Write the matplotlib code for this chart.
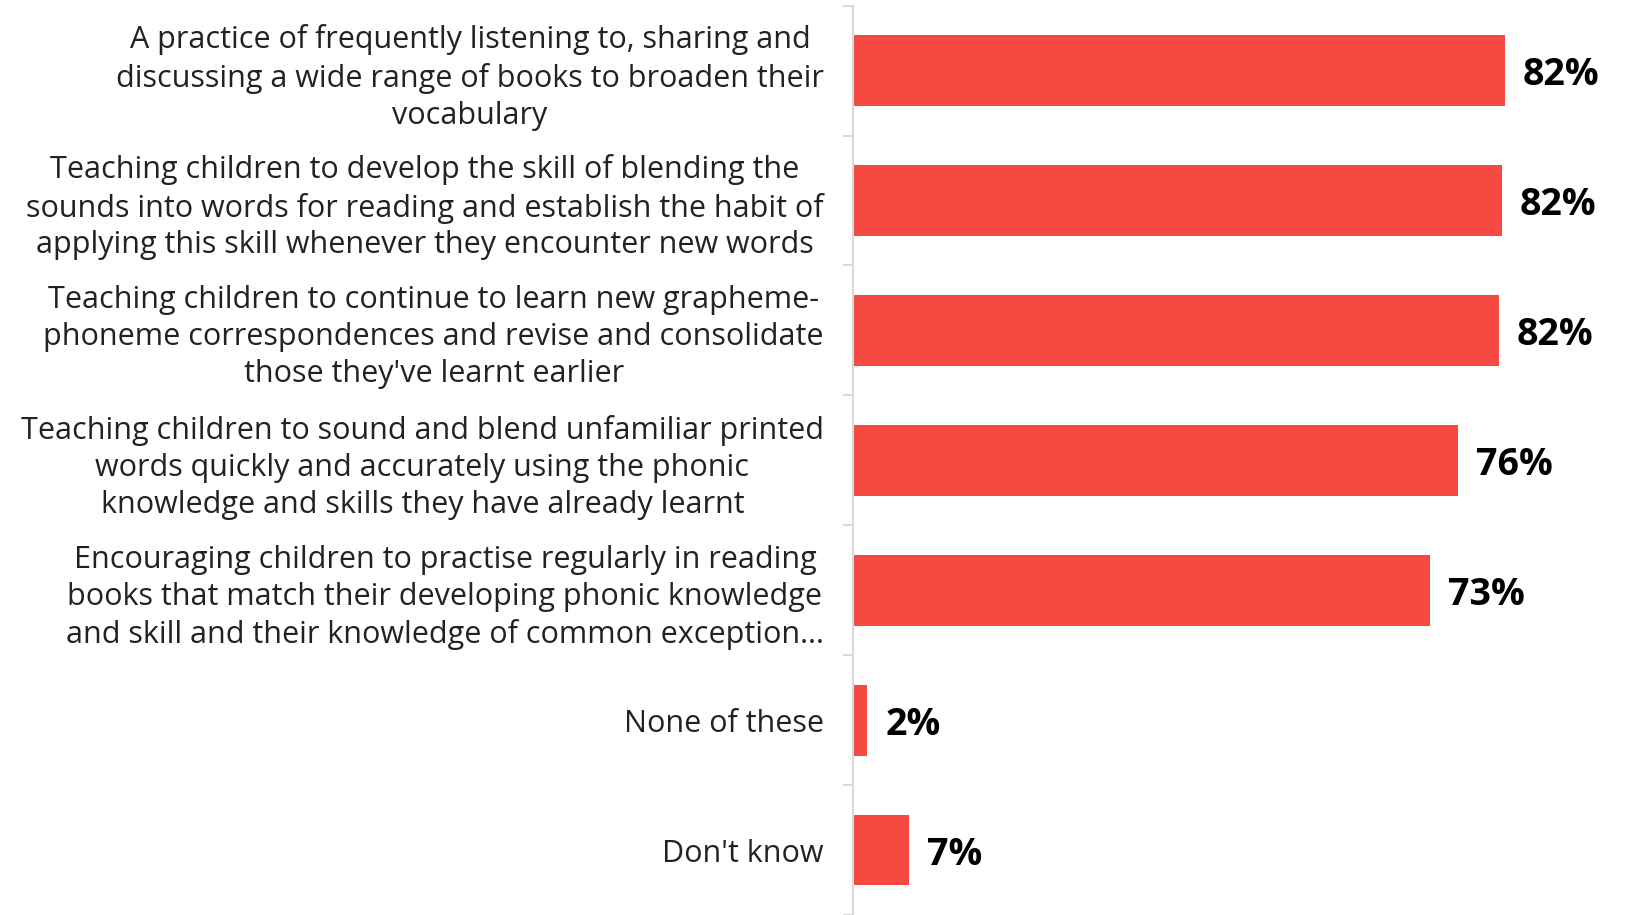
import matplotlib.pyplot as plt

plt.rcParams['font.family'] = ['Open Sans', 'DejaVu Sans']

categories = [
    "A practice of frequently listening to, sharing and\ndiscussing a wide range of books to broaden their\nvocabulary",
    "Teaching children to develop the skill of blending the\nsounds into words for reading and establish the habit of\napplying this skill whenever they encounter new words",
    "Teaching children to continue to learn new grapheme-\nphoneme correspondences and revise and consolidate\nthose they've learnt earlier",
    "Teaching children to sound and blend unfamiliar printed\nwords quickly and accurately using the phonic\nknowledge and skills they have already learnt",
    "Encouraging children to practise regularly in reading\nbooks that match their developing phonic knowledge\nand skill and their knowledge of common exception\u2026",
    "None of these",
    "Don't know",
]
values = [82.0, 81.6, 81.2, 76.1, 72.6, 1.8, 7.0]
value_labels = ["82%", "82%", "82%", "76%", "73%", "2%", "7%"]

bar_color = "#F44A41"
grid_gray = "#D9D9D9"

fig = plt.figure(figsize=(16.26, 9.15), dpi=100)
# axes from the y axis line (x=853px) to the right edge
ax = fig.add_axes([853 / 1626, 0, 1 - 853 / 1626, 1 - 5.6 / 915])

y = list(range(len(categories)))
ax.barh(y, values, height=0.545, color=bar_color)

ax.set_xlim(0, 773 / 7.95)
ax.set_ylim(-0.5 + (915 - 5.6) / 130.4, -0.5)

for yi, v, lab in zip(y, values, value_labels):
    ax.text(v + 18 / 7.95, yi, lab, va='center_baseline', ha='left',
            fontsize=27, fontweight='bold', color='black')

ax.set_yticks(y)
ax.set_yticklabels(categories, fontsize=22, color='#222222')
for t in ax.get_yticklabels():
    t.set_multialignment('center')
    t.set_linespacing(1.3)
ax.tick_params(axis='y', which='major', length=0, pad=21)
ax.set_yticks([i + 0.5 for i in range(-1, len(categories))], minor=True)
ax.tick_params(axis='y', which='minor', length=7.5, width=1.5, color=grid_gray)

ax.set_xticks([])
for s in ['top', 'right', 'bottom']:
    ax.spines[s].set_visible(False)
ax.spines['left'].set_color(grid_gray)
ax.spines['left'].set_linewidth(1.5)

fig.savefig("out.png", dpi=100)
